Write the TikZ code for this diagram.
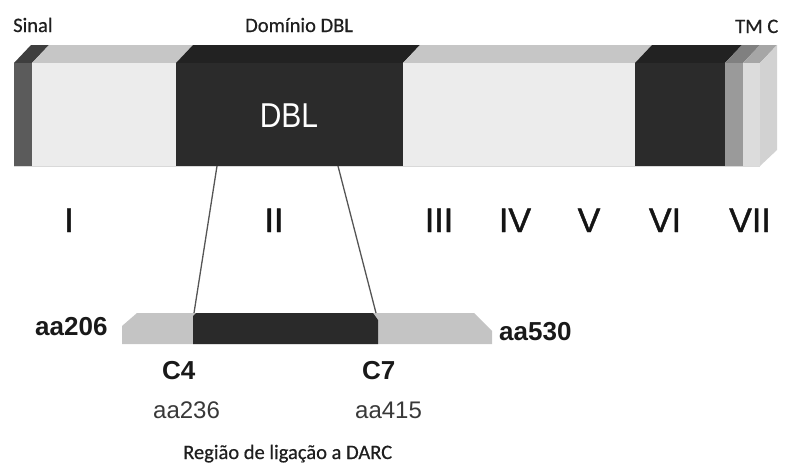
\documentclass[tikz,border=0pt]{standalone}
\usepackage{fontspec}
\usepackage{graphicx}
\setmainfont{Liberation Sans}
\newfontfamily\calfont[FakeBold=0.6]{Carlito}
\newfontfamily\romfont[FakeBold=1.2]{Liberation Sans}
\definecolor{sigF}{HTML}{5B5B5B}
\definecolor{sigT}{HTML}{3E3E3E}
\definecolor{litF}{HTML}{ECECEC}
\definecolor{litT}{HTML}{C6C6C6}
\definecolor{drkF}{HTML}{2B2B2B}
\definecolor{drkT}{HTML}{222222}
\definecolor{tmF}{HTML}{9A9A9A}
\definecolor{tmT}{HTML}{808080}
\definecolor{cF}{HTML}{DCDCDC}
\definecolor{cT}{HTML}{A6A6A6}
\definecolor{cS}{HTML}{D2D2D2}
\definecolor{lowL}{HTML}{C4C4C4}
\definecolor{lowD}{HTML}{2A2A2A}
\definecolor{lineC}{HTML}{555555}
\newcommand\segbox[4]{%
  \fill[#4] (#1,63) -- (#1+17,45) -- (#2+17,45) -- (#2,63) -- cycle;
  \fill[#3] (#1,63) rectangle (#2,166);}
\tikzset{
  small/.style={font=\calfont\fontsize{20.5}{24}\selectfont, text=black!88, inner sep=0pt},
  roman/.style={font=\romfont\fontsize{34}{40}\selectfont, text=black!92, inner sep=0pt, anchor=base},
  boldlab/.style={font=\bfseries\fontsize{26}{30}\selectfont, text=black!90, inner sep=0pt, anchor=base west},
  reglab/.style={font=\fontsize{24}{28}\selectfont, text=black!78, inner sep=0pt, anchor=base west},
  connector/.style={draw=lineC, line width=1.3pt}
}
\begin{document}
\begin{tikzpicture}[x=1pt,y=-1pt]
\useasboundingbox (0,0) rectangle (785,463);
% top bar segments
\segbox{14}{32}{sigF}{sigT}
\segbox{32}{176}{litF}{litT}
\segbox{176}{403}{drkF}{drkT}
\segbox{403}{635}{litF}{litT}
\segbox{635}{725}{drkF}{drkT}
\segbox{725}{743}{tmF}{tmT}
\segbox{743}{760}{cF}{cT}
\fill[cS] (760,63) -- (777,45) -- (777,150) -- (760,166) -- cycle;
\draw[white!85!black, line width=0.8pt] (14,166) -- (760,166);
% top labels
\node[small, anchor=base west] (sinal) at (13,32) {Sinal};
\node[small, anchor=base west] (dominio) at (245,32) {Domínio DBL};
\node[small, anchor=base west] (tmc) at (735,33) {TM C};
\node[font=\fontsize{30}{34}\selectfont, text=white, inner sep=0pt, anchor=base] (dbl) at (289,127) {\scalebox{1}[1.15]{DBL}};
% roman numerals
\node[roman] (r1) at (69,232) {I};
\node[roman] (r2) at (274,232) {II};
\node[roman] (r3) at (439,232) {III};
\node[roman] (r4) at (515,232) {IV};
\node[roman] (r5) at (589,232) {V};
\node[roman] (r6) at (665,232) {VI};
\node[roman] (r7) at (750,232) {VII};
% lower bar
\fill[lowL] (122,344) -- (122,326) -- (137,313) -- (474,313) -- (492,331) -- (492,344) -- cycle;
\fill[lowD] (193,344) -- (193,316) -- (196,313) -- (373,313) -- (378,320) -- (378,344) -- cycle;
% connectors
\coordinate (dblL) at (217,166);
\coordinate (dblR) at (338,166);
\coordinate (c4top) at (194,313);
\coordinate (c7top) at (376,313);
\draw[connector] (dblL) -- (c4top);
\draw[connector] (dblR) -- (c7top);
% lower labels
\node[boldlab] (aa206) at (35,335) {aa206};
\node[boldlab] (aa530) at (499,340) {aa530};
\node[boldlab] (c4) at (162,379) {C4};
\node[boldlab] (c7) at (362,379) {C7};
\node[reglab] (aa236) at (153,418) {aa236};
\node[reglab] (aa415) at (355,418) {aa415};
\node[small, anchor=base west] (regiao) at (183,459) {Região de ligação a DARC};
\end{tikzpicture}
\end{document}
